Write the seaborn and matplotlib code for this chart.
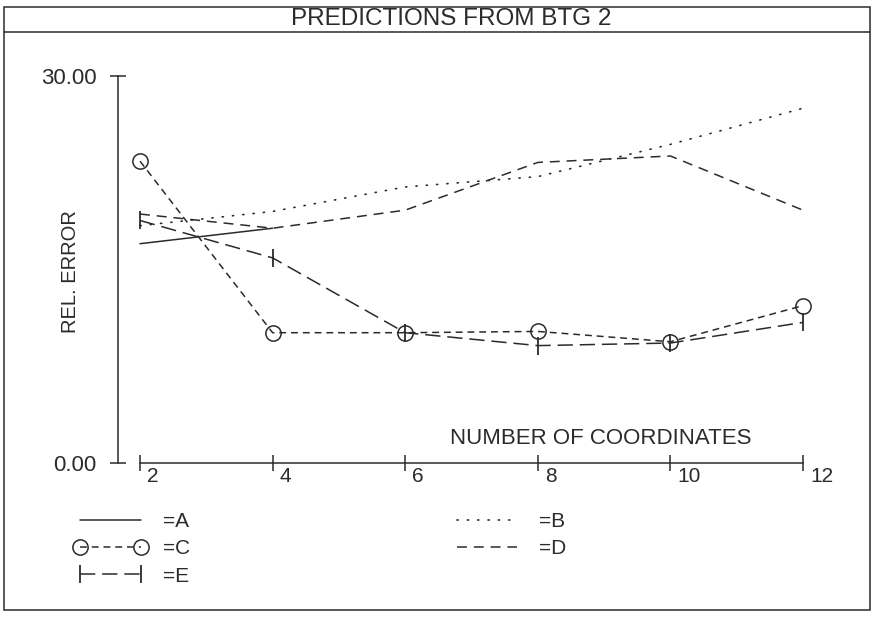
import matplotlib
matplotlib.use("Agg")
import matplotlib.pyplot as plt
import matplotlib.transforms as mtransforms
from matplotlib.patches import Rectangle
from matplotlib.lines import Line2D
import seaborn as sns

# Datos
coords = [2, 4, 6, 8, 10, 12]
err_a = [17.0, 18.2]
err_b = [18.4, 19.5, 21.4, 22.2, 24.7, 27.5]
err_c = [23.4, 10.1, 10.1, 10.2, 9.4, 12.2]
err_d = [19.3, 18.2, 19.6, 23.3, 23.8, 19.6]
err_e = [18.8, 15.9, 10.1, 9.1, 9.3, 10.9]
series_labels = ["=A", "=B", "=C", "=D", "=E"]
y_ticks = [0, 30]
y_tick_labels = ["0.00", "30.00"]
x_tick_labels = ["2", "4", "6", "8", "10", "12"]

sns.set_theme(style="white")
plt.rcParams["font.family"] = ["Liberation Sans", "DejaVu Sans"]
ink = "#2b2b2b"
plt.rcParams["text.color"] = ink

W, H = 876, 618
fig = plt.figure(figsize=(W / 100, H / 100), dpi=100)
# ejes en pixeles: izq 118, der 830, abajo (y=0) 463, arriba (y=30) 76
ax = fig.add_axes([118 / W, (H - 463) / H, 712 / W, 387 / H])
ax.set_facecolor("white")

lw = 1.1
sns.lineplot(x=coords[:2], y=err_a, ax=ax, color=ink, linewidth=lw, linestyle="-")
sns.lineplot(x=coords, y=err_b, ax=ax, color=ink, linewidth=1.2,
             linestyle=(0, (0.7, 5.5)), dash_capstyle="round")
sns.lineplot(x=coords, y=err_c, ax=ax, color=ink, linewidth=lw,
             linestyle=(0, (4.5, 3.2)), marker="o", markersize=11,
             markerfacecolor="none", markeredgecolor=ink, markeredgewidth=1.1)
sns.lineplot(x=coords, y=err_d, ax=ax, color=ink, linewidth=lw,
             linestyle=(0, (6.5, 4.5)))
sns.lineplot(x=coords, y=err_e, ax=ax, color=ink, linewidth=lw,
             linestyle=(0, (10, 4.5)), marker="|", markersize=13,
             markeredgecolor=ink, markeredgewidth=1.3)
for ln in ax.lines:
    ln.set_clip_on(False)

ax.set_xlim(2 - 22 / 66.3, 2 - 22 / 66.3 + 712 / 66.3)
ax.set_ylim(0, 30)

for s in ["top", "right"]:
    ax.spines[s].set_visible(False)
for s in ["left", "bottom"]:
    ax.spines[s].set_color(ink)
    ax.spines[s].set_linewidth(1.1)
ax.spines["left"].set_bounds(0, 30)
ax.spines["bottom"].set_bounds(2, 12)

ax.set_yticks(y_ticks)
ax.set_yticklabels(y_tick_labels)
ax.set_xticks(coords)
ax.set_xticklabels(x_tick_labels)
ax.tick_params(axis="both", direction="inout", length=12, width=1.1,
               color=ink, labelcolor=ink, bottom=True, left=True)
ax.tick_params(axis="y", pad=9.5, labelsize=16)
ax.tick_params(axis="x", pad=-2, labelsize=15)
shift = mtransforms.ScaledTranslation(0.07, 0.02, fig.dpi_scale_trans)
for lab in ax.get_xticklabels():
    lab.set_horizontalalignment("left")
    lab.set_transform(lab.get_transform() + shift)
ax.grid(False)

ax.text((601 - 118) / 712, (463 - 438) / 387, "NUMBER OF COORDINATES",
        transform=ax.transAxes, ha="center", va="center", fontsize=16)
fig.text(70 / W, 1 - 272 / H, "REL. ERROR", rotation=90, ha="center",
         va="center", fontsize=14.5)

# Titulo y marco
fig.text(451 / W, 1 - 19 / H, "PREDICTIONS FROM BTG 2", ha="center",
         va="center", fontsize=17.5)
fig.add_artist(Rectangle((4 / W, 1 - 610 / H), 866 / W, 603 / H,
                         transform=fig.transFigure, fill=False,
                         edgecolor=ink, linewidth=1.1))
fig.add_artist(Line2D([4 / W, 870 / W], [1 - 32 / H, 1 - 32 / H],
                      transform=fig.transFigure, color=ink, linewidth=1.1))

# Leyenda
handles = ax.get_lines()[:5]
order = [0, 2, 4, 1, 3]
fig.legend([handles[i] for i in order], [series_labels[i] for i in order],
           ncol=2, loc="upper left", bbox_to_anchor=(74 / W, 1 - 512 / H),
           frameon=False, fontsize=15, numpoints=2, handlelength=3.5,
           handletextpad=0.77, columnspacing=12.5, labelspacing=0.4,
           borderpad=0, borderaxespad=0)

fig.savefig("out.png", dpi=100, facecolor="white")
